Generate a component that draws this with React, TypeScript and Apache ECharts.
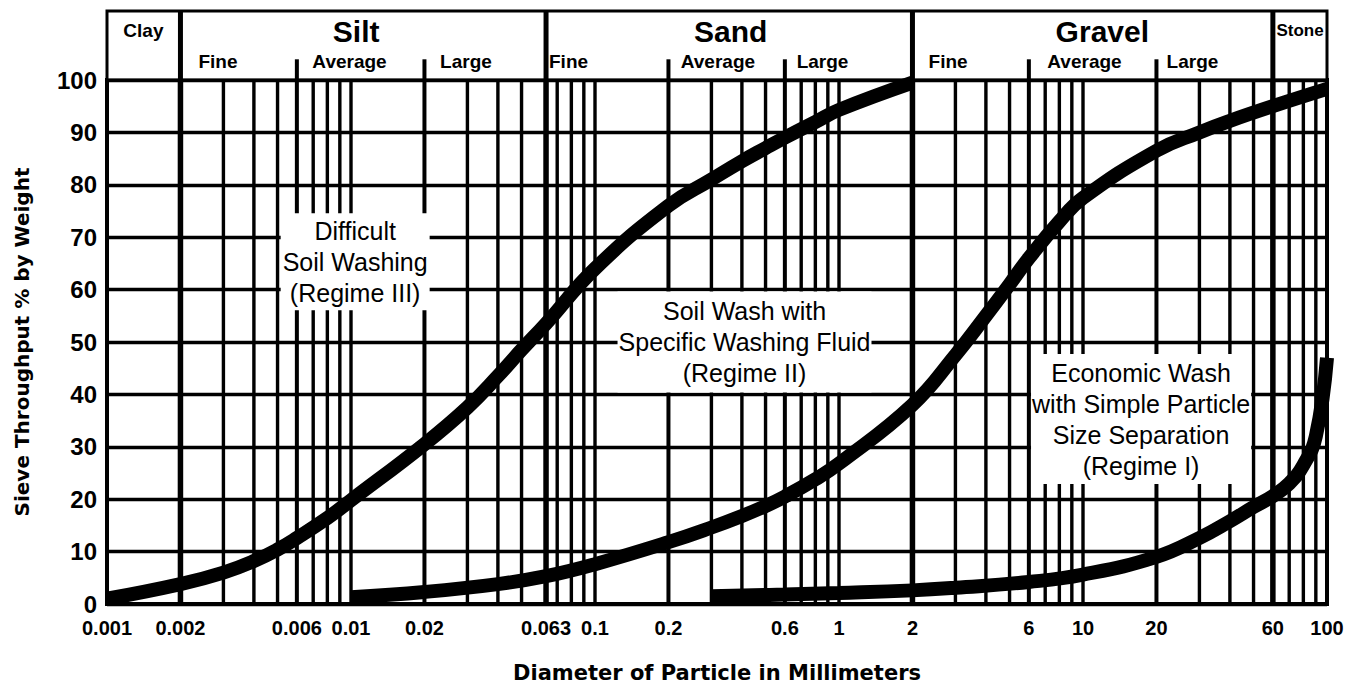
import React, { useEffect, useRef } from "react";
import * as echarts from "echarts";

// x-axis tick labels (mm)
const tickValues = [0.001, 0.002, 0.006, 0.01, 0.02, 0.063, 0.1, 0.2, 0.6, 1, 2, 6, 10, 20, 60, 100];
const tickLabels = ["0.001", "0.002", "0.006", "0.01", "0.02", "0.063", "0.1", "0.2", "0.6", "1", "2", "6", "10", "20", "60", "100"];

// vertical grid lines
const majorBounds = [0.002, 0.063, 2, 60];
const subBounds = [0.006, 0.02, 0.2, 0.6, 6, 20];
const minorLines = [
  0.003, 0.004, 0.005, 0.007, 0.008, 0.009, 0.01, 0.03, 0.04, 0.05, 0.07, 0.08, 0.09, 0.1,
  0.3, 0.4, 0.5, 0.7, 0.8, 0.9, 1, 3, 4, 5, 7, 8, 9, 10, 30, 40, 50, 70, 80, 90,
];

// grading curves: [diameter mm, % passing]
const curveA = [
  [0.001, 1], [0.002, 3.8], [0.003, 6], [0.004, 8.2], [0.005, 10.4], [0.006, 12.6], [0.008, 16.4],
  [0.01, 19.8], [0.02, 30.5], [0.03, 37.5], [0.04, 43.5], [0.05, 48.5], [0.063, 53.5], [0.1, 64],
  [0.2, 76], [0.3, 81], [0.4, 84.5], [0.5, 87], [0.6, 89], [0.8, 92], [1, 94.3], [2, 99.5],
];
const curveB = [
  [0.01, 1.3], [0.02, 2.3], [0.04, 3.8], [0.063, 5.3], [0.1, 7.6], [0.2, 11.8], [0.3, 14.6],
  [0.4, 16.8], [0.5, 18.7], [0.6, 20.5], [0.8, 23.8], [1, 26.8], [2, 38], [3, 47.5], [4, 55],
  [5, 61], [6, 66], [8, 73], [10, 77.5], [20, 86.5], [30, 90], [40, 92.2], [60, 95], [100, 98.3],
];
const curveC = [
  [0.3, 1.5], [0.6, 1.8], [1, 2.1], [2, 2.6], [3, 3.1], [6, 4.2], [10, 5.6], [20, 9], [30, 12.6],
  [40, 15.8], [50, 18.5], [60, 20.6], [70, 23], [80, 26.5], [90, 32], [100, 47],
];

// header labels
const classNames = ["Clay", "Silt", "Sand", "Gravel", "Stone"];
const classX = [0.00141, 0.0105, 0.36, 12, 77.5];
const classY = [0.72, 0.71, 0.71, 0.71, 0.72];
const subNames = ["Fine", "Average", "Large", "Fine", "Average", "Large", "Fine", "Average", "Large"];
const subX = [0.00285, 0.00986, 0.0296, 0.0779, 0.319, 0.856, 2.8, 10.14, 28.1];
const subY = [0.27, 0.27, 0.27, 0.27, 0.27, 0.27, 0.27, 0.27, 0.27];

// regime annotations
const regimeTexts = [
  "Difficult\nSoil Washing\n(Regime III)",
  "Soil Wash with\nSpecific Washing Fluid\n(Regime II)",
  "Economic Wash\nwith Simple Particle\nSize Separation\n(Regime I)",
];
const regimeX = [0.0104, 0.41, 17.3];
const regimeY = [65.3, 50, 35.3];

export default function App() {
  const ref = useRef<HTMLDivElement>(null);
  useEffect(() => {
    const chart = echarts.init(ref.current as HTMLDivElement, null, { renderer: "svg" });
    const FONT = "'Liberation Sans', Arial, Helvetica, sans-serif";
    const TITLE_FONT = "'DejaVu Sans', 'Liberation Sans', sans-serif";
    const fmtX = (v: number) => {
      let best = 0;
      let bd = Infinity;
      tickValues.forEach((t, i) => {
        const d = Math.abs(Math.log10(t) - Math.log10(v));
        if (d < bd) { bd = d; best = i; }
      });
      return tickLabels[best];
    };
    const vLines = [
      ...minorLines.map((v) => [v, 0, 1]),
      ...subBounds.map((v) => [v, 0, 2]),
      ...majorBounds.map((v) => [v, 0, 3]),
    ];
    const widths: Record<number, number> = { 1: 3.4, 2: 4, 3: 5.5 };
    const headerLines = [...majorBounds.map((v) => [v, 1]), ...subBounds.map((v) => [v, 0.3])];
    const paddings = [[2, 2], [4, 1], [3, 1]];

    const curveSeries = (data: number[][]) => ({
      type: "line",
      xAxisIndex: 0,
      yAxisIndex: 0,
      data,
      smooth: 0.45,
      showSymbol: false,
      symbol: "none",
      z: 5,
      silent: true,
      lineStyle: { color: "#000", width: 14, cap: "butt" },
    });

    const hiddenItem = { color: "rgba(0,0,0,0)", opacity: 1 };

    chart.setOption({
      animation: false,
      backgroundColor: "#fff",
      textStyle: { fontFamily: FONT, color: "#000" },
      grid: [
        { left: 107, right: 31, top: 80, bottom: 91, show: true, borderColor: "#000", borderWidth: 4, backgroundColor: "#fff" },
        { left: 107, right: 31, top: 11, height: 69, show: true, borderColor: "#000", borderWidth: 3, backgroundColor: "#fff" },
      ],
      xAxis: [
        {
          gridIndex: 0,
          type: "log",
          logBase: 10,
          min: 0.001,
          max: 100,
          axisLine: { show: false },
          axisTick: { show: false },
          splitLine: { show: false },
          minorTick: { show: false },
          minorSplitLine: { show: false },
          axisLabel: {
            customValues: tickValues,
            formatter: fmtX,
            fontSize: 20,
            fontWeight: "bold",
            color: "#000",
            margin: 14,
            fontFamily: FONT,
          },
          name: "Diameter of Particle in Millimeters",
          nameLocation: "middle",
          nameGap: 58,
          nameTextStyle: { fontSize: 21, fontWeight: "bold", fontFamily: TITLE_FONT, color: "#000" },
        },
        { gridIndex: 1, type: "log", logBase: 10, min: 0.001, max: 100, show: false },
      ],
      yAxis: [
        {
          gridIndex: 0,
          type: "value",
          min: 0,
          max: 100,
          interval: 10,
          axisLine: { show: false },
          axisTick: { show: false },
          axisLabel: { fontSize: 24, fontWeight: "bold", color: "#000", margin: 10, fontFamily: FONT },
          splitLine: { show: true, lineStyle: { color: "#000", width: 3.4 } },
          name: "Sieve Throughput % by Weight",
          nameLocation: "middle",
          nameGap: 75,
          nameTextStyle: { fontSize: 20, fontWeight: "bold", fontFamily: TITLE_FONT, color: "#000" },
        },
        { gridIndex: 1, type: "value", min: 0, max: 1, show: false },
      ],
      series: [
        {
          type: "custom",
          xAxisIndex: 0,
          yAxisIndex: 0,
          z: 2,
          silent: true,
          data: vLines,
          renderItem: (params: any, api: any) => {
            const v = api.value(0);
            const k = api.value(2);
            const p0 = api.coord([v, 0]);
            const p1 = api.coord([v, 100]);
            return {
              type: "line",
              shape: { x1: p0[0], y1: p0[1], x2: p1[0], y2: p1[1] },
              style: { stroke: "#000", lineWidth: widths[k] },
            };
          },
        },
        {
          type: "custom",
          xAxisIndex: 1,
          yAxisIndex: 1,
          z: 2,
          silent: true,
          data: headerLines,
          renderItem: (params: any, api: any) => {
            const v = api.value(0);
            const top = api.value(1);
            const p0 = api.coord([v, 0]);
            const p1 = api.coord([v, top]);
            return {
              type: "line",
              shape: { x1: p0[0], y1: p0[1], x2: p1[0], y2: p1[1] },
              style: { stroke: "#000", lineWidth: top >= 1 ? 5 : 4 },
            };
          },
        },
        {
          type: "scatter",
          xAxisIndex: 1,
          yAxisIndex: 1,
          z: 3,
          silent: true,
          symbolSize: 1,
          itemStyle: hiddenItem,
          label: { show: true, position: "inside", formatter: "{b}", fontWeight: "bold", color: "#000", fontFamily: FONT },
          data: [
            ...classNames.map((n, i) => ({
              name: n,
              value: [classX[i], classY[i]],
              label: { fontSize: i === 0 ? 19 : i === 4 ? 17 : 30 },
            })),
            ...subNames.map((n, i) => ({ name: n, value: [subX[i], subY[i]], label: { fontSize: 19 } })),
          ],
        },
        {
          type: "scatter",
          xAxisIndex: 0,
          yAxisIndex: 0,
          z: 3,
          silent: true,
          symbolSize: 1,
          itemStyle: hiddenItem,
          label: {
            show: true,
            position: "inside",
            formatter: "{b}",
            fontSize: 25,
            lineHeight: 31,
            color: "#000",
            fontFamily: FONT,
            backgroundColor: "#fff",
            align: "center",
          },
          data: regimeTexts.map((t, i) => ({
            name: t,
            value: [regimeX[i], regimeY[i]],
            label: { padding: paddings[i] },
          })),
        },
        curveSeries(curveA),
        curveSeries(curveB),
        curveSeries(curveC),
      ],
    });
    return () => chart.dispose();
  }, []);
  return (
    <div
      ref={ref}
      style={{ position: "absolute", left: 0, top: 0, width: 1358, height: 695, background: "#fff" }}
    />
  );
}
